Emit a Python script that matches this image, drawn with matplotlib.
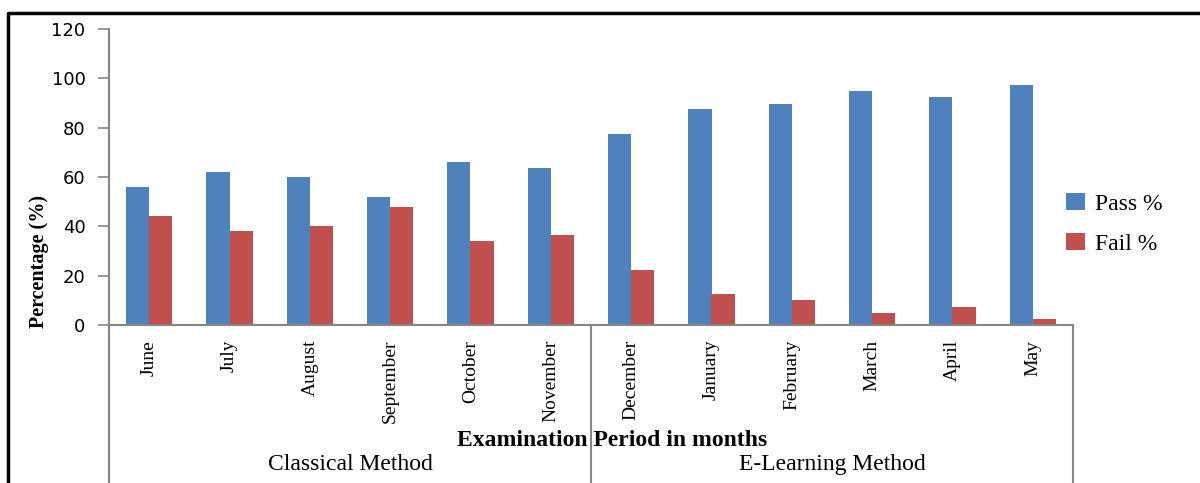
import matplotlib.pyplot as plt
import matplotlib.lines as mlines
import numpy as np

# Datos del grafico
meses = ['June', 'July', 'August', 'September', 'October', 'November',
         'December', 'January', 'February', 'March', 'April', 'May']
aprobados = [56, 62, 60, 52, 66, 63.5, 77.5, 87.5, 89.5, 95, 92.5, 97.5]
suspensos = [44, 38, 40, 48, 34, 36.5, 22.5, 12.5, 10, 5, 7.5, 2.5]
grupos = ['Classical Method', 'E-Learning Method']
tamano_grupo = 6

azul = '#4F81BD'
rojo = '#C0504D'
gris = '#868686'
serif = 'Liberation Serif'

fig = plt.figure(figsize=(12, 4.83), dpi=100)
ax = fig.add_axes([109 / 1200, 1 - 325 / 483, (1073 - 109) / 1200, 296 / 483])

x = np.arange(len(meses))
ancho = 0.29
ax.bar(x - ancho / 2, aprobados, ancho, color=azul, label='Pass %')
ax.bar(x + ancho / 2, suspensos, ancho, color=rojo, label='Fail %')

ax.set_xlim(-0.5, len(meses) - 0.5)
ax.set_ylim(0, 120)
ax.set_yticks(range(0, 121, 20))
ax.tick_params(axis='y', direction='out', length=8, color=gris, width=1.2,
               labelsize=13, pad=9)
ax.set_xticks([])
for lado in ['top', 'right']:
    ax.spines[lado].set_visible(False)
for lado in ['left', 'bottom']:
    ax.spines[lado].set_color(gris)
    ax.spines[lado].set_linewidth(1.5)

# Etiquetas de los meses, giradas
for i, mes in enumerate(meses):
    ax.text(i, -0.05, mes, transform=ax.get_xaxis_transform(), rotation=90,
            ha='center', va='top', fontsize=14, family=serif)

# Separadores de los grupos
trans = ax.get_xaxis_transform()
for pos in [-0.5, tamano_grupo - 0.5, len(meses) - 0.5]:
    ax.add_line(mlines.Line2D([pos, pos], [0, -0.56], transform=trans,
                              color=gris, lw=1.5, clip_on=False))

for j, nombre in enumerate(grupos):
    centro = j * tamano_grupo + (tamano_grupo - 1) / 2
    ax.text(centro, -0.47, nombre, transform=trans, ha='center', va='center',
            fontsize=17, family=serif)

fig.text(612 / 1200, 1 - 441 / 483, 'Examination Period in months', ha='center',
         va='center', fontsize=17, fontweight='bold', family=serif)
fig.text(39 / 1200, 1 - 262 / 483, 'Percentage (%)', rotation=90, ha='center',
         va='center', fontsize=14.5, fontweight='bold', family=serif)

ax.legend(loc='center left', bbox_to_anchor=(1045 / 1200, 1 - 224 / 483),
          bbox_transform=fig.transFigure, frameon=False, prop={'family': serif, 'size': 17},
          handlelength=0.8, handleheight=0.7, handletextpad=0.4, labelspacing=0.8)

# Marco negro de la figura
fig.add_artist(mlines.Line2D([8 / 1200, 8 / 1200, 1.0], [0, 1 - 13 / 483, 1 - 13 / 483],
                             transform=fig.transFigure, color='black', lw=2.5))

fig.savefig('out.png', dpi=100)
